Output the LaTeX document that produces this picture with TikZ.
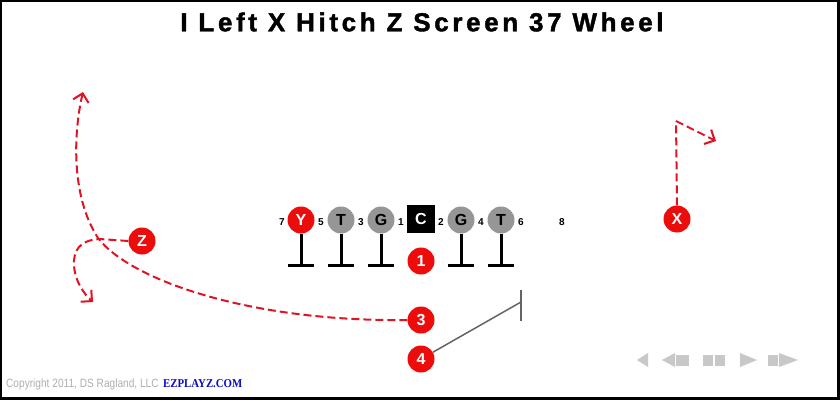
\documentclass[tikz,border=0pt]{standalone}
\usepackage{fontspec}
\setmainfont{Liberation Sans}
\newfontfamily\ezfont{Liberation Serif}
\usetikzlibrary{arrows.meta}
\definecolor{pred}{RGB}{236,12,12}
\definecolor{pgray}{RGB}{150,150,150}
\definecolor{rred}{RGB}{222,20,35}
\definecolor{ctrl}{RGB}{200,200,200}
\definecolor{cpgray}{RGB}{175,175,175}
\definecolor{ezblue}{RGB}{10,10,200}
\definecolor{blkgray}{RGB}{100,100,100}
\tikzset{
  skill/.style={circle,fill=pred,text=white,minimum size=27pt,inner sep=0pt,font=\fontsize{16}{16}\selectfont\bfseries},
  lineman/.style={circle,fill=pgray,text=black,minimum size=27pt,inner sep=0pt,font=\fontsize{16}{16}\selectfont\bfseries},
  center/.style={rectangle,fill=black,text=white,minimum size=28pt,inner sep=0pt,font=\fontsize{16}{16}\selectfont\bfseries},
  hole/.style={inner sep=0pt,font=\fontsize{10}{10}\selectfont\bfseries},
  route/.style={rred,line width=2pt,dash pattern=on 8pt off 4pt,-{Straight Barb[length=8pt,width=16pt,line width=2pt]}},
  blk/.style={line width=3pt},
}
\begin{document}
\begin{tikzpicture}[x=1pt,y=-1pt]
\useasboundingbox (0,0) rectangle (840,400);
\fill[black] (0,0) rectangle (840,400);
\fill[white] (1.5,1.5) rectangle (837,397);
\node (title) at (422,22) {\fontsize{26}{26}\selectfont\bfseries\addfontfeature{LetterSpace=14,FakeBold=1.5}I Left X Hitch Z Screen 37 Wheel};
% line
\node[skill] (y) at (301,220) {Y};
\node[lineman] (lt) at (341,220) {T};
\node[lineman] (lg) at (381,220) {G};
\node[center] (c) at (421,219) {C};
\node[lineman] (rg) at (461,220) {G};
\node[lineman] (rt) at (501,220) {T};
\foreach \n/\x in {7/282,5/321,3/361,1/401,2/441,4/481,6/521,8/562}
  \node[hole] (h\n) at (\x,222) {\n};
\foreach \p in {y,lt,lg,rg,rt}
  \draw[blk] (\p.south) -- ++(0,32) ++(-13,0) -- ++(26,0);
% backs
\node[skill] (b1) at (421,261) {1};
\node[skill] (b3) at (421,320) {3};
\node[skill] (b4) at (421,359) {4};
\node[skill] (x) at (677,219) {X};
\node[skill] (z) at (142,241) {Z};
% routes
\coordinate (xbreak) at (676,121);
\coordinate (xend) at (716,141);
\draw[route,-] (x.north) -- (xbreak);
\draw[route] (xbreak) -- (xend);
\coordinate (zturn) at (100,239);
\coordinate (zend) at (93,302);
\draw[route] (z.west) -- (zturn) .. controls (80,240) and (73,250) .. (74,266) .. controls (75,281) and (84,294) .. (zend);
\coordinate (wmid) at (98,238);
\coordinate (wend) at (83,92);
\draw[route] (b3.west) .. controls (250,322) and (130,280) .. (wmid) .. controls (70,195) and (74,130) .. (wend);
\coordinate (bend) at (521,302);
\draw[blkgray,line width=1.5pt] (b4) -- (bend);
\draw[blkgray,line width=2pt] (521,290) -- (521,321);
% footer
\node[anchor=west,text=cpgray,inner sep=0pt,xscale=0.845] (copy) at (6,384) {\fontsize{12}{12}\selectfont Copyright 2011, DS Ragland, LLC};
\node[anchor=west,text=ezblue,inner sep=0pt,xscale=0.9] (ez) at (163,384) {\fontsize{12}{12}\selectfont\ezfont\bfseries EZPLAYZ.COM};
% controls
\fill[ctrl] (648,353) -- (648,367) -- (637,360) -- cycle;
\fill[ctrl] (675,353) -- (675,367) -- (662,360) -- cycle;
\fill[ctrl] (676,355) rectangle (689,366);
\fill[ctrl] (703,355) rectangle (713,366);
\fill[ctrl] (715,355) rectangle (725,366);
\fill[ctrl] (740,353) -- (740,367) -- (757,360) -- cycle;
\fill[ctrl] (768,355) rectangle (778,366);
\fill[ctrl] (779,353) -- (779,367) -- (798,360) -- cycle;
\end{tikzpicture}
\end{document}
